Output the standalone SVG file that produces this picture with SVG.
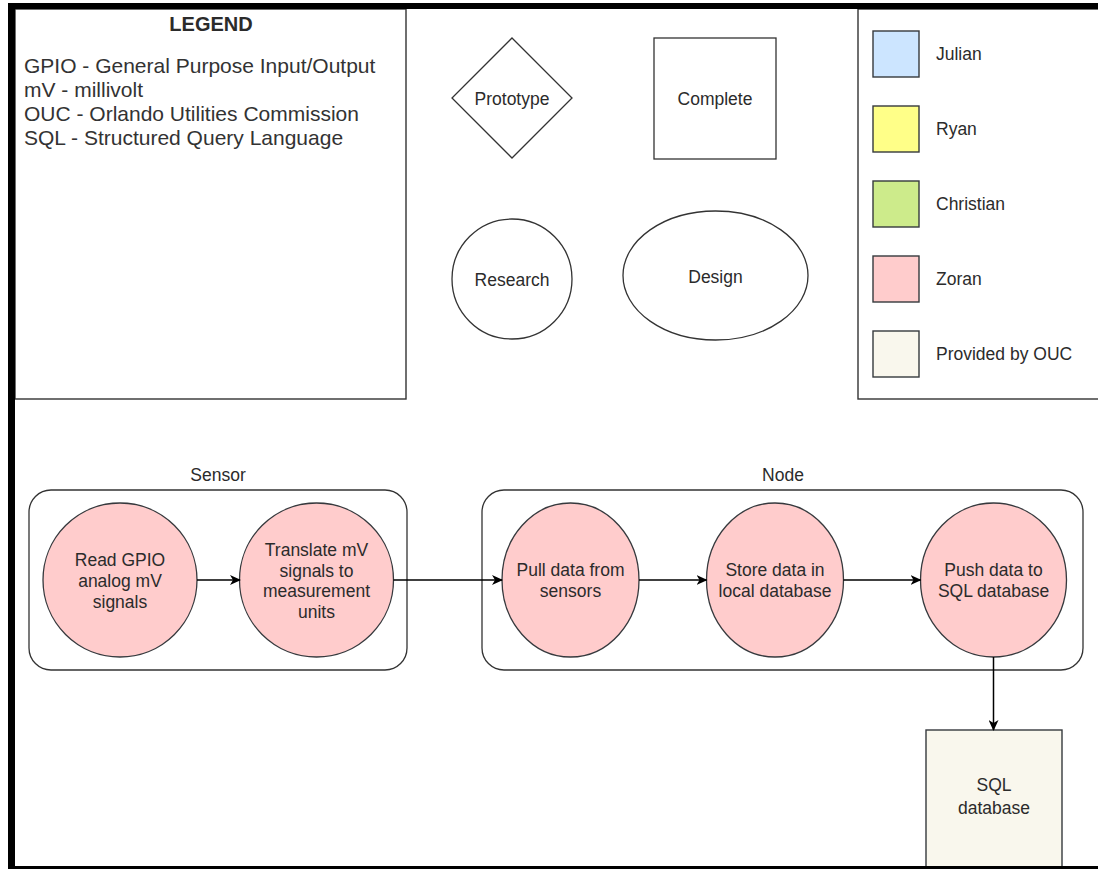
<svg xmlns="http://www.w3.org/2000/svg" width="1098" height="869" viewBox="0 0 1098 869">
  <style>
    .t { font-family: "Liberation Sans", Arial, Helvetica, sans-serif; fill: #2b2b2b; }
    .lbl { font-size: 17.5px; text-anchor: middle; }
    .leg { font-size: 21px; fill: #333; }
    .box { fill: #ffffff; stroke: #333; stroke-width: 1.4; }
    .shape { fill: #ffffff; stroke: #333; stroke-width: 1.3; }
    .zoran { fill: #ffcccc; stroke: #36393d; stroke-width: 1.3; }
    .ouc { fill: #f9f7ed; stroke: #36393d; stroke-width: 1.4; }
    .group { fill: none; stroke: #333; stroke-width: 1.3; }
    .edge { fill: none; stroke: #000; stroke-width: 1.5; }
  </style>
  <defs>
    <marker id="arrow" viewBox="0 0 11 10" refX="10" refY="5" markerWidth="11" markerHeight="10" markerUnits="userSpaceOnUse" orient="auto">
      <path d="M0,0 L11,5 L0,10 L3,5 Z" fill="#000"/>
    </marker>
  </defs>

  <rect x="0" y="0" width="1098" height="869" fill="#ffffff"/>

  <!-- legend: abbreviations -->
  <g id="legend-abbrev">
    <rect class="box" x="15" y="9" width="391" height="390"/>
    <text class="t" x="211" y="31" font-size="20px" font-weight="bold" text-anchor="middle">LEGEND</text>
    <text class="t leg" x="24" y="73">GPIO - General Purpose Input/Output</text>
    <text class="t leg" x="24" y="97">mV - millivolt</text>
    <text class="t leg" x="24" y="121">OUC - Orlando Utilities Commission</text>
    <text class="t leg" x="24" y="145">SQL - Structured Query Language</text>
  </g>

  <!-- legend: shape meanings -->
  <g id="shape-prototype">
    <polygon class="shape" points="512,38 572,98 512,158 452,98"/>
    <text class="t lbl" x="512" y="105">Prototype</text>
  </g>
  <g id="shape-complete">
    <rect class="shape" x="654" y="38" width="122" height="121"/>
    <text class="t lbl" x="715" y="105">Complete</text>
  </g>
  <g id="shape-research">
    <circle class="shape" cx="512" cy="279" r="60"/>
    <text class="t lbl" x="512" y="286">Research</text>
  </g>
  <g id="shape-design">
    <ellipse class="shape" cx="715.5" cy="275.5" rx="92.5" ry="64.5"/>
    <text class="t lbl" x="715.5" y="283">Design</text>
  </g>

  <!-- legend: colour owners -->
  <g id="legend-colors">
    <rect class="box" x="858" y="9" width="250" height="390"/>
    <rect x="873" y="31" width="46" height="46" fill="#cce5ff" stroke="#36393d" stroke-width="1.4"/>
    <text class="t" x="936" y="60" font-size="17.5px">Julian</text>
    <rect x="873" y="106" width="46" height="46" fill="#ffff88" stroke="#36393d" stroke-width="1.4"/>
    <text class="t" x="936" y="135" font-size="17.5px">Ryan</text>
    <rect x="873" y="181" width="46" height="46" fill="#cdeb8b" stroke="#36393d" stroke-width="1.4"/>
    <text class="t" x="936" y="210" font-size="17.5px">Christian</text>
    <rect x="873" y="256" width="46" height="46" fill="#ffcccc" stroke="#36393d" stroke-width="1.4"/>
    <text class="t" x="936" y="285" font-size="17.5px">Zoran</text>
    <rect x="873" y="331" width="46" height="46" fill="#f9f7ed" stroke="#36393d" stroke-width="1.4"/>
    <text class="t" x="936" y="360" font-size="17.5px">Provided by OUC</text>
  </g>

  <!-- containers -->
  <g id="sensor-group">
    <rect class="group" x="29" y="490" width="378" height="180" rx="22" ry="22"/>
    <text class="t lbl" x="218" y="481">Sensor</text>
  </g>
  <g id="node-group">
    <rect class="group" x="482" y="490" width="601" height="180" rx="22" ry="22"/>
    <text class="t lbl" x="783" y="481">Node</text>
  </g>

  <!-- process steps -->
  <g id="read-gpio">
    <circle class="zoran" cx="120" cy="580" r="77"/>
    <text class="t lbl" x="120" y="566">Read GPIO</text>
    <text class="t lbl" x="120" y="587">analog mV</text>
    <text class="t lbl" x="120" y="608">signals</text>
  </g>
  <g id="translate-mv">
    <circle class="zoran" cx="316.5" cy="580" r="77"/>
    <text class="t lbl" x="316.5" y="556">Translate mV</text>
    <text class="t lbl" x="316.5" y="577">signals to</text>
    <text class="t lbl" x="316.5" y="597">measurement</text>
    <text class="t lbl" x="316.5" y="618">units</text>
  </g>
  <g id="pull-data">
    <ellipse class="zoran" cx="570.5" cy="580" rx="68.5" ry="77"/>
    <text class="t lbl" x="570.5" y="576">Pull data from</text>
    <text class="t lbl" x="570.5" y="597">sensors</text>
  </g>
  <g id="store-data">
    <ellipse class="zoran" cx="775" cy="580" rx="68.5" ry="77"/>
    <text class="t lbl" x="775" y="576">Store data in</text>
    <text class="t lbl" x="775" y="597">local database</text>
  </g>
  <g id="push-data">
    <ellipse class="zoran" cx="993.5" cy="580" rx="73" ry="77"/>
    <text class="t lbl" x="993.5" y="576">Push data to</text>
    <text class="t lbl" x="993.5" y="597">SQL database</text>
  </g>
  <g id="sql-database">
    <rect class="ouc" x="926" y="730" width="136" height="150"/>
    <text class="t lbl" x="994" y="791">SQL</text>
    <text class="t lbl" x="994" y="814">database</text>
  </g>

  <!-- connectors -->
  <g id="connectors">
    <path class="edge" d="M197,580 L240,580" marker-end="url(#arrow)"/>
    <path class="edge" d="M393.5,580 L502,580" marker-end="url(#arrow)"/>
    <path class="edge" d="M639,580 L706.5,580" marker-end="url(#arrow)"/>
    <path class="edge" d="M843.5,580 L920.5,580" marker-end="url(#arrow)"/>
    <path class="edge" d="M993.5,657 L993.5,730" marker-end="url(#arrow)"/>
  </g>

  <!-- outer frame -->
  <g id="frame" fill="#000">
    <rect x="8" y="3" width="1090" height="6"/>
    <rect x="8" y="3" width="7" height="866"/>
    <rect x="8" y="866" width="1090" height="3"/>
  </g>
</svg>
